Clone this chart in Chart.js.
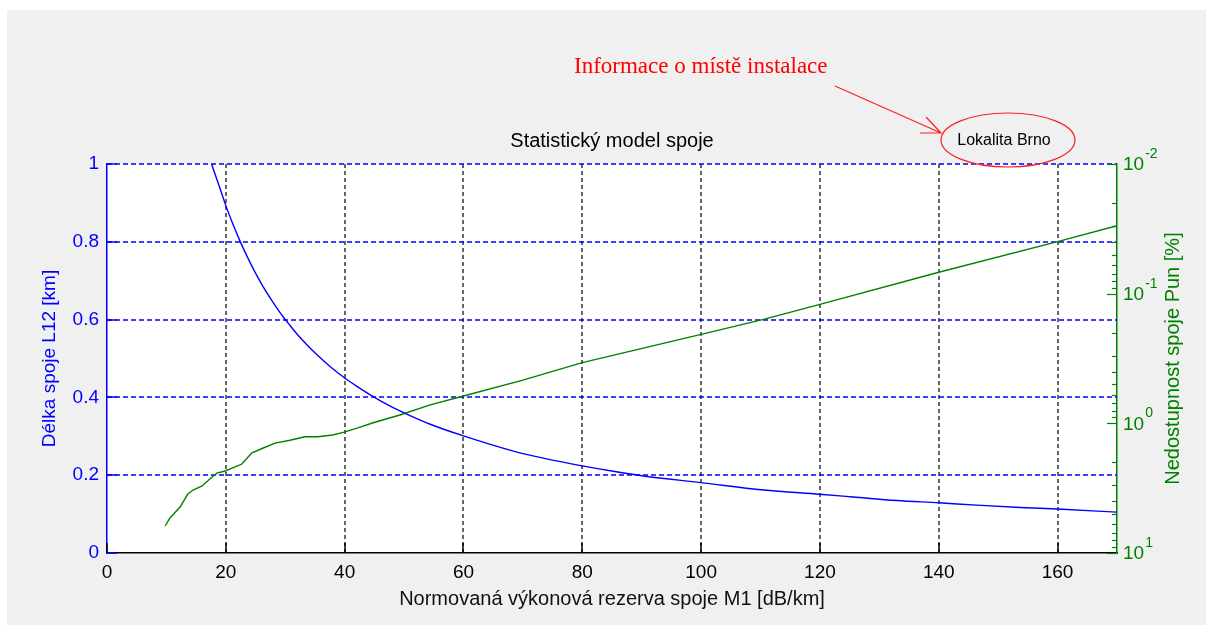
<!DOCTYPE html>
<html>
<head>
<meta charset="utf-8">
<script src="https://cdn.jsdelivr.net/npm/chart.js@4.4.1/dist/chart.umd.min.js"></script>
<style>
  body { margin: 0; background: #fff; }
  #wrap { width: 1206px; height: 625px; }
</style>
</head>
<body>
<div id="wrap"><canvas id="statistic-chart" width="1206" height="625"></canvas></div>
<script>
// values
const blueM = [17.6, 18.5, 19.3, 20.0, 21.0, 22.3, 23.5, 24.6, 26.0, 27.4, 28.8, 29.8, 30.8, 32.2, 33.6, 35.3, 37.5, 39.9, 42.0, 44.8, 47.6, 49.9, 54.4, 60.0, 68.4, 74.0, 80.0, 85.2, 90.3, 99.9, 110.5, 119.9, 125.6, 132.9, 140.0, 146.4, 153.7, 160.0, 170.0]
const blueL = [1.0, 0.96, 0.925, 0.893, 0.853, 0.805, 0.765, 0.731, 0.692, 0.657, 0.625, 0.604, 0.585, 0.559, 0.536, 0.510, 0.480, 0.451, 0.429, 0.402, 0.378, 0.361, 0.331, 0.301, 0.262, 0.242, 0.224, 0.210, 0.198, 0.181, 0.162, 0.151, 0.144, 0.135, 0.129, 0.123, 0.117, 0.113, 0.105]

const greenM = [9.8, 10.6, 12.3, 13.6, 14.5, 16.0, 17.7, 18.5, 19.9, 22.7, 23.6, 24.4, 26.3, 28.3, 30.8, 33.3, 35.5, 38.0, 39.9, 42.1, 44.8, 49.3, 54.4, 60, 70, 80, 100, 110.5, 120, 140, 160, 170]
const greenPun = [6.19, 5.37, 4.42, 3.51, 3.27, 3.04, 2.59, 2.42, 2.33, 2.06, 1.85, 1.69, 1.55, 1.42, 1.35, 1.27, 1.27, 1.23, 1.17, 1.09, 0.99, 0.863, 0.72, 0.615, 0.464, 0.340, 0.206, 0.158, 0.121, 0.0684, 0.0397, 0.0299]

const rightMajor = [0.01, 0.1, 1, 10]
const rightExp = ["-2", "-1", "0", "1"]
const rightMinor = [0.02, 0.03, 0.04, 0.05, 0.06, 0.07, 0.08, 0.09, 0.2, 0.3, 0.4, 0.5, 0.6, 0.7, 0.8, 0.9, 2, 3, 4, 5, 6, 7, 8, 9]

const chartTitle = "Statistický model spoje"
const xTitle = "Normovaná výkonová rezerva spoje M1 [dB/km]"
const yTitle = "Délka spoje L12 [km]"
const y2Title = "Nedostupnost spoje Pun [%]"
const noteText = "Informace o místě instalace"
const placeText = "Lokalita Brno"

const FONT = "'Liberation Sans', Arial, sans-serif"
const BLUE = "#0000ff"
const GREEN = "#008000"

const toPoints = (xs, ys) => xs.map((x, i) => ({ x: x, y: ys[i] }))
const snap = v => Math.round(v) + 0.5

const background = {
    id: "background",
    beforeDraw(chart) {
        const { ctx, chartArea } = chart
        ctx.save()
        ctx.fillStyle = "#ffffff"
        ctx.fillRect(0, 0, chart.width, chart.height)
        ctx.fillStyle = "#f0f0f0"
        ctx.fillRect(7, 10, chart.width - 7, chart.height - 10)
        ctx.fillStyle = "#ffffff"
        ctx.fillRect(chartArea.left, chartArea.top, chartArea.right - chartArea.left, chartArea.bottom - chartArea.top)
        ctx.restore()
    }
}

// dashed grid, matlab style
const gridLines = {
    id: "gridLines",
    beforeDatasetsDraw(chart) {
        const { ctx, chartArea, scales } = chart
        const { left, right, top, bottom } = chartArea
        ctx.save()
        ctx.lineWidth = 1.5
        ctx.setLineDash([4, 3])
        ctx.strokeStyle = "#333333"
        scales.x.ticks.forEach(t => {
            if (t.value === 0) return
            const px = Math.round(scales.x.getPixelForValue(t.value))
            ctx.beginPath(); ctx.moveTo(px, top); ctx.lineTo(px, bottom); ctx.stroke()
        })
        ctx.setLineDash([5, 3])
        ctx.strokeStyle = BLUE
        scales.y.ticks.forEach(t => {
            if (t.value === 0) return
            const py = Math.round(scales.y.getPixelForValue(t.value))
            ctx.beginPath(); ctx.moveTo(left, py); ctx.lineTo(right, py); ctx.stroke()
        })
        ctx.restore()
    }
}

const extras = {
    id: "extras",
    afterDraw(chart) {
        const { ctx, chartArea, scales } = chart
        const { left, right, top, bottom } = chartArea
        ctx.save()
        ctx.lineWidth = 1.5

        // inward tick marks
        ctx.strokeStyle = "#000"
        scales.x.ticks.forEach(t => {
            const px = Math.round(scales.x.getPixelForValue(t.value))
            ctx.beginPath(); ctx.moveTo(px, bottom); ctx.lineTo(px, bottom - 10); ctx.stroke()
        })
        ctx.strokeStyle = BLUE
        scales.y.ticks.forEach(t => {
            const py = Math.round(scales.y.getPixelForValue(t.value))
            ctx.beginPath(); ctx.moveTo(left, py); ctx.lineTo(left + 10, py); ctx.stroke()
        })
        ctx.strokeStyle = GREEN
        ctx.lineWidth = 1.2
        rightMajor.forEach(v => {
            const py = snap(scales.y2.getPixelForValue(v))
            ctx.beginPath(); ctx.moveTo(right, py); ctx.lineTo(right - 10, py); ctx.stroke()
        })
        rightMinor.forEach(v => {
            const py = snap(scales.y2.getPixelForValue(v))
            ctx.beginPath(); ctx.moveTo(right, py); ctx.lineTo(right - 5, py); ctx.stroke()
        })

        // right axis labels 10^n
        ctx.fillStyle = GREEN
        ctx.textBaseline = "middle"
        ctx.textAlign = "left"
        rightMajor.forEach((v, i) => {
            const py = scales.y2.getPixelForValue(v)
            ctx.font = "19px " + FONT
            ctx.fillText("10", right + 6, py + 1)
            const w = ctx.measureText("10").width
            ctx.font = "14px " + FONT
            ctx.fillText(rightExp[i], right + 6 + w + 1, py - 10)
        })

        // titles
        ctx.textAlign = "center"
        ctx.fillStyle = "#000"
        ctx.font = "20px " + FONT
        ctx.fillText(chartTitle, (left + right) / 2, 141)
        ctx.fillStyle = "#111"
        ctx.fillText(xTitle, (left + right) / 2, 599)

        ctx.save()
        ctx.translate(50, (top + bottom) / 2)
        ctx.rotate(-Math.PI / 2)
        ctx.fillStyle = BLUE
        ctx.font = "19px " + FONT
        ctx.fillText(yTitle, 0, 0)
        ctx.restore()

        ctx.save()
        ctx.translate(1173, (top + bottom) / 2)
        ctx.rotate(-Math.PI / 2)
        ctx.fillStyle = GREEN
        ctx.font = "20px " + FONT
        ctx.fillText(y2Title, 0, 0)
        ctx.restore()

        // annotation
        ctx.fillStyle = "#ff0000"
        ctx.font = "23px 'Liberation Serif', 'Times New Roman', serif"
        ctx.textAlign = "left"
        ctx.fillText(noteText, 574, 67)

        ctx.strokeStyle = "#ff2020"
        ctx.lineWidth = 1.2
        ctx.beginPath()
        ctx.moveTo(835, 86)
        ctx.lineTo(941, 133)
        ctx.moveTo(926, 117)
        ctx.lineTo(941, 133)
        ctx.lineTo(920, 133)
        ctx.stroke()

        ctx.beginPath()
        ctx.ellipse(1008, 140, 67, 27, 0, 0, Math.PI * 2)
        ctx.stroke()

        ctx.fillStyle = "#000"
        ctx.font = "16px " + FONT
        ctx.textAlign = "center"
        ctx.fillText(placeText, 1004, 141)
        ctx.restore()
    }
}

new Chart("statistic-chart", {
    type: "line",
    data: {
        datasets: [{
            data: toPoints(blueM, blueL),
            yAxisID: "y",
            borderColor: BLUE,
            borderWidth: 1.4,
            pointRadius: 0,
            cubicInterpolationMode: "monotone",
            fill: false
        }, {
            data: toPoints(greenM, greenPun),
            yAxisID: "y2",
            borderColor: GREEN,
            borderWidth: 1.4,
            pointRadius: 0,
            tension: 0,
            fill: false
        }]
    },
    options: {
        responsive: false,
        animation: false,
        layout: { padding: { top: 164, left: 0, right: 0, bottom: 0 } },
        plugins: {
            legend: { display: false },
            tooltip: { enabled: false }
        },
        scales: {
            x: {
                type: "linear",
                min: 0,
                max: 170,
                ticks: {
                    stepSize: 20,
                    includeBounds: false,
                    padding: 8,
                    color: "#000",
                    font: { size: 19, family: FONT },
                    maxRotation: 0
                },
                grid: { display: false, drawTicks: false },
                border: { color: "#000", width: 1.5 },
                afterFit: scale => { scale.height = 72 }
            },
            y: {
                type: "linear",
                position: "left",
                min: 0,
                max: 1,
                ticks: {
                    stepSize: 0.2,
                    padding: 8,
                    color: BLUE,
                    font: { size: 19, family: FONT },
                    callback: v => String(Math.round(v * 10) / 10)
                },
                grid: { display: false, drawTicks: false },
                border: { color: BLUE, width: 1.5 },
                afterFit: scale => { scale.width = 107 }
            },
            y2: {
                type: "logarithmic",
                position: "right",
                reverse: true,
                min: 0.01,
                max: 10,
                ticks: { display: false },
                grid: { display: false, drawTicks: false },
                border: { color: GREEN, width: 1.5 },
                afterBuildTicks: scale => { scale.ticks = rightMajor.map(v => ({ value: v })) },
                afterFit: scale => { scale.width = 89 }
            }
        }
    },
    plugins: [background, gridLines, extras]
});
</script>
</body>
</html>
